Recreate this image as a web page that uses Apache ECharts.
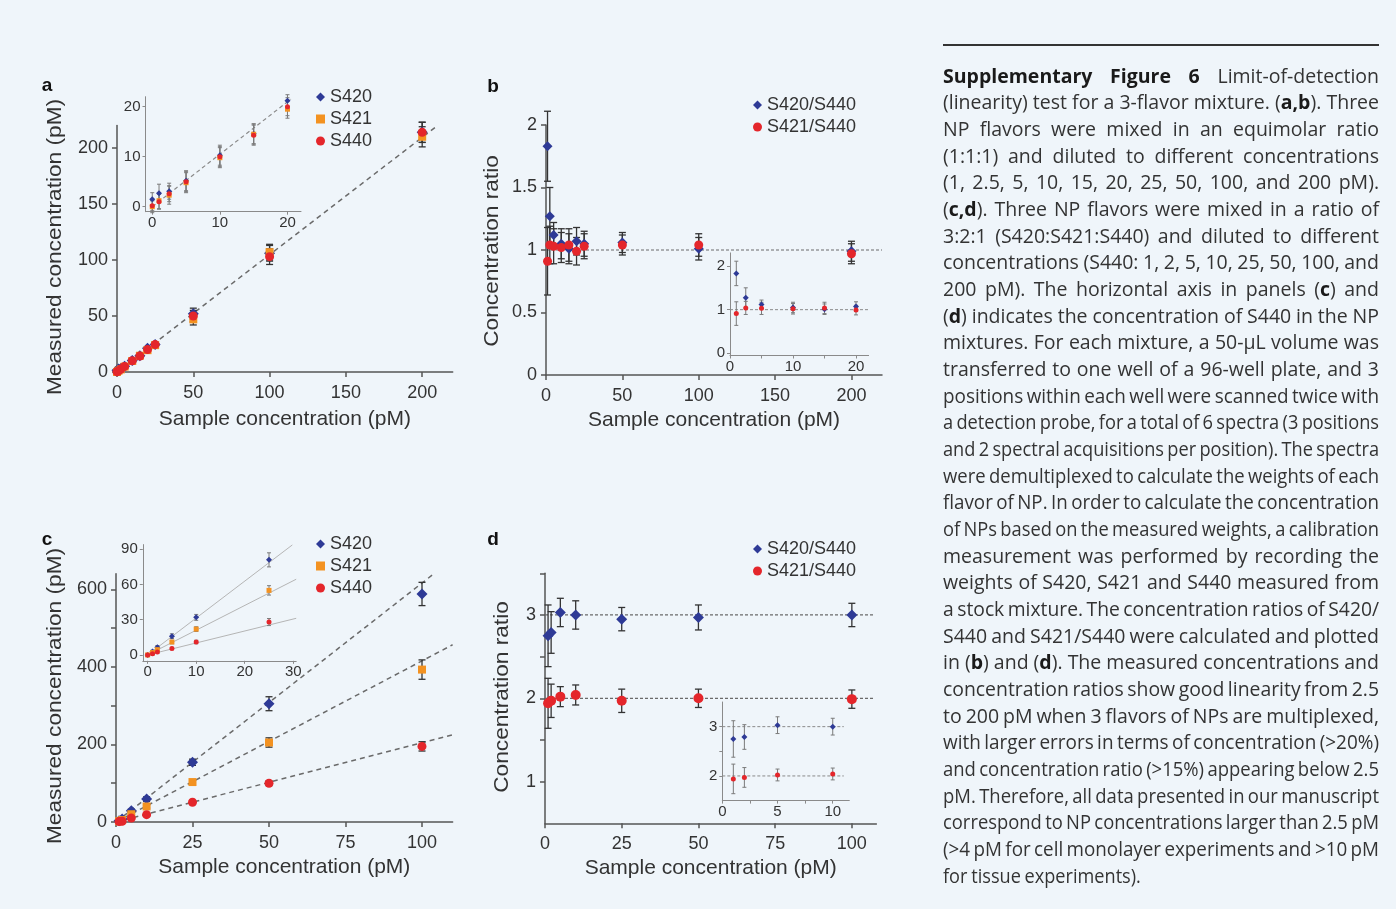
<!DOCTYPE html>
<html><head><meta charset="utf-8">
<script src="https://cdn.jsdelivr.net/npm/echarts@6/dist/echarts.min.js"></script>
<style>html,body{margin:0;padding:0;background:#eff5fa;} #c{width:1396px;height:909px;}</style>
</head><body><div id="c"></div><script>
// ================= DATA =================
// Panel a: equimolar mixture, measured concentration (pM)
const concA    = [0, 1, 2.5, 5, 10, 15, 20, 25, 50, 100, 200];
const measA420 = [1.5, 2.7, 3.1, 5.2, 10.3, 14.6, 21.2, 24.5, 52, 106, 214];
const errA420  = [1.3, 1.8, 1.6, 2.0, 2.0, 2.0, 1.2, 2.0, 5, 7, 9];
const measA421 = [0.0, 1.2, 2.3, 4.8, 9.8, 14.5, 19.5, 24.0, 47, 107, 210];
const errA421  = [1.2, 1.6, 1.8, 2.0, 2.0, 2.0, 1.8, 2.0, 5, 7, 9];
const measA440 = [0.2, 1.0, 2.6, 5.0, 10.0, 14.3, 20.0, 24.5, 50, 103, 214];
const errA440  = [1.0, 1.5, 1.6, 2.0, 2.0, 2.0, 1.8, 2.0, 5, 7, 9];
const fitA      = [[0, 0], [210, 220]];
const fitAInset = [[0, 0], [20.5, 21.5]];

// Panel b: concentration ratios, equimolar
const concB  = [1, 2.5, 5, 10, 15, 20, 25, 50, 100, 200];
const rB420  = [1.83, 1.27, 1.12, 1.05, 1.01, 1.07, 1.05, 1.06, 1.01, 0.99];
const eB420  = [0.28, 0.23, 0.10, 0.12, 0.12, 0.11, 0.10, 0.08, 0.09, 0.08];
const rB421  = [0.91, 1.04, 1.03, 1.02, 1.04, 0.99, 1.03, 1.04, 1.04, 0.97];
const eB421  = [0.27, 0.15, 0.14, 0.12, 0.13, 0.11, 0.10, 0.08, 0.09, 0.08];
const refB      = [[0, 1], [220, 1]];
const refBInset = [[0, 1], [22, 1]];

// Panel c: 3:2:1 mixture, measured concentration (pM)
const concC    = [1, 2, 5, 10, 25, 50, 100];
const measC420 = [3, 8, 29, 59, 154, 305, 588];
const errC420  = [2, 3, 4, 6, 8, 18, 30];
const measC421 = [2, 5, 20, 40, 103, 205, 393];
const errC421  = [1, 2, 3, 4, 6, 12, 25];
const measC440 = [1, 2, 10, 19, 51, 100, 195];
const errC440  = [1, 1, 2, 3, 4, 6, 12];
const fitC420 = [[0, 0], [104.2, 642]];
const fitC421 = [[0, 0], [110, 457]];
const fitC440 = [[0, 0], [110, 225]];
// Panel c inset
const concCi    = [0, 1, 2, 5, 10, 25];
const measCi420 = [0, 3, 6.5, 16, 32, 81];
const errCi420  = [1, 1, 1.5, 2, 2.5, 6];
const measCi421 = [0, 2, 4.5, 11, 22, 55];
const errCi421  = [1, 1, 1, 1.5, 2, 4];
const measCi440 = [0, 1, 2.5, 5.5, 11, 28];
const errCi440  = [1, 1, 1, 1, 1.5, 3];
const fitCi420 = [[0, 0], [29.8, 93.7]];
const fitCi421 = [[0, 0], [30.6, 64.5]];
const fitCi440 = [[0, 0], [30.6, 31.2]];

// Panel d: concentration ratios, 3:2:1
const concD = [1, 2, 5, 10, 25, 50, 100];
const rD420 = [2.75, 2.79, 3.03, 3.00, 2.95, 2.97, 3.00];
const eD420 = [0.37, 0.25, 0.17, 0.17, 0.14, 0.15, 0.14];
const rD421 = [1.94, 1.97, 2.02, 2.04, 1.97, 2.00, 1.99];
const eD421 = [0.30, 0.20, 0.12, 0.12, 0.14, 0.11, 0.11];
const refD3 = [[0, 3], [107, 3]];
const refD2 = [[0, 2], [107, 2]];
const refDi3 = [[0, 3], [11, 3]];
const refDi2 = [[0, 2], [11, 2]];

// Tick / label values
const ticksA   = [0, 50, 100, 150, 200];
const ticksAi  = [0, 10, 20];
const ticksBx  = [0, 50, 100, 150, 200];
const ticksBy  = [0, 0.5, 1, 1.5, 2];
const ticksBix = [0, 10, 20];
const ticksBixMinor = [0, 5, 10, 15, 20];
const ticksBiy = [0, 1, 2];
const ticksCx  = [0, 25, 50, 75, 100];
const labelsCy = [0, 200, 400, 600];
const ticksCy  = [0, 100, 200, 300, 400, 500, 600];
const ticksCix = [0, 10, 20, 30];
const ticksCiy = [0, 30, 60, 90];
const ticksDx  = [0, 25, 50, 75, 100];
const labelsDy = [1, 2, 3];
const ticksDy  = [1, 1.5, 2, 2.5, 3, 3.5];
const labelsDix = [0, 5, 10];
const ticksDix  = [0, 2.5, 5, 7.5, 10];
const labelsDiy = [2, 3];
const ticksDiy  = [2, 2.5, 3];

const xTitle = 'Sample concentration (pM)';
const yTitleMeasured = 'Measured concentration (pM)';
const yTitleRatio = 'Concentration ratio';

const captionLines = [
 "**Supplementary Figure 6** Limit-of-detection",
 "(linearity) test for a 3-flavor mixture. (**a,b**). Three",
 "NP flavors were mixed in an equimolar ratio",
 "(1:1:1) and diluted to different concentrations",
 "(1, 2.5, 5, 10, 15, 20, 25, 50, 100, and 200 pM).",
 "(**c,d**). Three NP flavors were mixed in a ratio of",
 "3:2:1 (S420:S421:S440) and diluted to different",
 "concentrations (S440: 1, 2, 5, 10, 25, 50, 100, and",
 "200 pM). The horizontal axis in panels (**c**) and",
 "(**d**) indicates the concentration of S440 in the NP",
 "mixtures. For each mixture, a 50-\u03bcL volume was",
 "transferred to one well of a 96-well plate, and 3",
 "positions within each well were scanned twice with",
 "a detection probe, for a total of 6 spectra (3 positions",
 "and 2 spectral acquisitions per position). The spectra",
 "were demultiplexed to calculate the weights of each",
 "flavor of NP. In order to calculate the concentration",
 "of NPs based on the measured weights, a calibration",
 "measurement was performed by recording the",
 "weights of S420, S421 and S440 measured from",
 "a stock mixture. The concentration ratios of S420/",
 "S440 and S421/S440 were calculated and plotted",
 "in (**b**) and (**d**). The measured concentrations and",
 "concentration ratios show good linearity from 2.5",
 "to 200 pM when 3 flavors of NPs are multiplexed,",
 "with larger errors in terms of concentration (>20%)",
 "and concentration ratio (>15%) appearing below 2.5",
 "pM. Therefore, all data presented in our manuscript",
 "correspond to NP concentrations larger than 2.5 pM",
 "(>4 pM for cell monolayer experiments and >10 pM",
 "for tissue experiments)."
];

// ================= STYLE / BUILD =================
const FONT = 'Liberation Sans';
const BLUE = '#2e3a96', ORANGE = '#f39221', RED = '#e4262b';
const BG = '#eff5fa';

const grids = [
  {left: 117,   top: 125.6, width: 335.7, height: 246.4}, // 0 a
  {left: 145.5, top: 96.7,  width: 155.5, height: 115},   // 1 a inset
  {left: 546,   top: 125,   width: 336,   height: 250},   // 2 b
  {left: 730,   top: 252.9, width: 138.6, height: 102.6}, // 3 b inset
  {left: 116,   top: 573.8, width: 336.6, height: 248.2}, // 4 c
  {left: 142.8, top: 544.6, width: 153.4, height: 116.2}, // 5 c inset
  {left: 545,   top: 573.3, width: 331.4, height: 250},   // 6 d
  {left: 722.3, top: 702,   width: 127,   height: 98.6}   // 7 d inset
];

function axis(gi, min, max, labelVals, tickVals, main, isY, name, nameGap) {
  const col = main ? '#555' : '#8a8a8a';
  const o = {
    type: 'value', gridIndex: gi, min: min, max: max,
    axisLine: {show: true, onZero: false, lineStyle: {color: col, width: main ? 1.5 : 1}},
    axisTick: {show: true, customValues: tickVals, length: main ? 5 : 3, lineStyle: {color: col, width: main ? 1.5 : 1}},
    axisLabel: {customValues: labelVals, fontSize: main ? 18 : 15, color: '#333', fontFamily: FONT,
                margin: main ? (isY ? 9 : 12) : (isY ? 5 : 4)},
    splitLine: {show: false}
  };
  if (name) {
    o.name = name; o.nameLocation = 'middle'; o.nameGap = nameGap;
    o.nameTextStyle = {fontSize: 21, color: '#333', fontFamily: FONT};
  }
  return o;
}

const xAxes = [
  axis(0, 0, 220, ticksA, ticksA, true, false, xTitle, 37),
  axis(1, -1, 22, ticksAi, ticksAi, false, false),
  axis(2, 0, 220, ticksBx, ticksBx, true, false, xTitle, 35),
  axis(3, 0, 22, ticksBix, ticksBixMinor, false, false),
  axis(4, 0, 110, ticksCx, ticksCx, true, false, xTitle, 35),
  axis(5, -1, 30.6, ticksCix, ticksCix, false, false),
  axis(6, 0, 108, ticksDx, ticksDx, true, false, xTitle, 34),
  axis(7, 0, 11.5, labelsDix, ticksDix, false, false)
];
const yAxes = [
  axis(0, 0, 220, ticksA, ticksA, true, true),
  axis(1, -1, 22, ticksAi, ticksAi, false, true),
  axis(2, 0, 2, ticksBy, ticksBy, true, true),
  axis(3, -0.05, 2.3, ticksBiy, ticksBiy, false, true),
  axis(4, 0, 640, labelsCy, ticksCy, true, true),
  axis(5, -5, 94, ticksCiy, ticksCiy, false, true),
  axis(6, 0.5, 3.5, labelsDy, ticksDy, true, true),
  axis(7, 1.5, 3.5, labelsDiy, ticksDiy, false, true)
];

const series = [];
function zip(xs, ys, maxX) {
  const out = [];
  xs.forEach((x, i) => { if (maxX === undefined || x <= maxX) out.push([x, ys[i]]); });
  return out;
}
function zipErr(xs, ys, es, maxX) {
  const out = [];
  xs.forEach((x, i) => { if (maxX === undefined || x <= maxX) out.push([x, ys[i] - es[i], ys[i] + es[i]]); });
  return out;
}
function addLine(gi, data, opts) {
  series.push({type: 'line', xAxisIndex: gi, yAxisIndex: gi, data: data, showSymbol: false, symbol: 'none',
    silent: true, animation: false, z: opts.z || 1,
    lineStyle: {color: opts.color || '#666', width: opts.width || 1.5, type: opts.type || [5, 4]}});
}
function addErr(gi, data, main, z) {
  const col = main ? '#333' : '#7a7a7a', lw = main ? 1.3 : 1, cap = main ? 3.5 : 2;
  series.push({type: 'custom', xAxisIndex: gi, yAxisIndex: gi, data: data, silent: true, animation: false,
    clip: false, z: z, encode: {x: 0, y: [1, 2]},
    renderItem: function (params, api) {
      const x = api.value(0), lo = api.value(1), hi = api.value(2);
      const p1 = api.coord([x, lo]), p2 = api.coord([x, hi]);
      const st = {stroke: col, lineWidth: lw};
      return {type: 'group', children: [
        {type: 'line', shape: {x1: p1[0], y1: p1[1], x2: p2[0], y2: p2[1]}, style: st},
        {type: 'line', shape: {x1: p1[0] - cap, y1: p1[1], x2: p1[0] + cap, y2: p1[1]}, style: st},
        {type: 'line', shape: {x1: p2[0] - cap, y1: p2[1], x2: p2[0] + cap, y2: p2[1]}, style: st}
      ]};
    }});
}
function addPts(gi, name, data, color, symbol, size, z) {
  series.push({type: 'scatter', name: name, xAxisIndex: gi, yAxisIndex: gi, data: data, symbol: symbol,
    symbolSize: size, itemStyle: {color: color, opacity: 1}, silent: true, animation: false, z: z});
}

// ---- panel a ----
addLine(0, fitA, {color: '#6a6a6a', type: [5, 4]});
addErr(0, zipErr(concA, measA420, errA420), true, 2);
addErr(0, zipErr(concA, measA421, errA421), true, 2);
addErr(0, zipErr(concA, measA440, errA440), true, 2);
addPts(0, 'S420', zip(concA, measA420), BLUE, 'diamond', 11, 3);
addPts(0, 'S421', zip(concA, measA421), ORANGE, 'rect', 8, 3);
addPts(0, 'S440', zip(concA, measA440), RED, 'circle', 9, 3);
addLine(1, fitAInset, {color: '#8a8a8a', width: 1.2, type: [4, 3], z: 4});
addErr(1, zipErr(concA, measA420, errA420, 20), false, 5);
addErr(1, zipErr(concA, measA421, errA421, 20), false, 5);
addErr(1, zipErr(concA, measA440, errA440, 20), false, 5);
addPts(1, 'S420', zip(concA, measA420, 20), BLUE, 'diamond', 6, 6);
addPts(1, 'S421', zip(concA, measA421, 20), ORANGE, 'rect', 5, 6);
addPts(1, 'S440', zip(concA, measA440, 20), RED, 'circle', 5, 6);

// ---- panel b ----
addLine(2, refB, {color: '#6a6a6a', width: 1.2, type: [3, 2]});
addErr(2, zipErr(concB, rB420, eB420), true, 2);
addErr(2, zipErr(concB, rB421, eB421), true, 2);
addPts(2, 'S420/S440', zip(concB, rB420), BLUE, 'diamond', 10, 3);
addPts(2, 'S421/S440', zip(concB, rB421), RED, 'circle', 9, 3);
addLine(3, refBInset, {color: '#8a8a8a', width: 1, type: [3, 2], z: 4});
addErr(3, zipErr(concB, rB420, eB420, 20), false, 5);
addErr(3, zipErr(concB, rB421, eB421, 20), false, 5);
addPts(3, 'S420/S440', zip(concB, rB420, 20), BLUE, 'diamond', 6, 6);
addPts(3, 'S421/S440', zip(concB, rB421, 20), RED, 'circle', 5, 6);

// ---- panel c ----
addLine(4, fitC420, {color: '#6a6a6a', type: [5, 4]});
addLine(4, fitC421, {color: '#6a6a6a', type: [5, 4]});
addLine(4, fitC440, {color: '#6a6a6a', type: [5, 4]});
addErr(4, zipErr(concC, measC420, errC420), true, 2);
addErr(4, zipErr(concC, measC421, errC421), true, 2);
addErr(4, zipErr(concC, measC440, errC440), true, 2);
addPts(4, 'S420', zip(concC, measC420), BLUE, 'diamond', 11, 3);
addPts(4, 'S421', zip(concC, measC421), ORANGE, 'rect', 8, 3);
addPts(4, 'S440', zip(concC, measC440), RED, 'circle', 9, 3);
addLine(5, fitCi420, {color: '#b5b5b5', width: 1, type: 'solid', z: 4});
addLine(5, fitCi421, {color: '#b5b5b5', width: 1, type: 'solid', z: 4});
addLine(5, fitCi440, {color: '#b5b5b5', width: 1, type: 'solid', z: 4});
addErr(5, zipErr(concCi, measCi420, errCi420), false, 5);
addErr(5, zipErr(concCi, measCi421, errCi421), false, 5);
addErr(5, zipErr(concCi, measCi440, errCi440), false, 5);
addPts(5, 'S420', zip(concCi, measCi420), BLUE, 'diamond', 6, 6);
addPts(5, 'S421', zip(concCi, measCi421), ORANGE, 'rect', 5, 6);
addPts(5, 'S440', zip(concCi, measCi440), RED, 'circle', 5, 6);

// ---- panel d ----
addLine(6, refD3, {color: '#6a6a6a', width: 1.2, type: [3, 2]});
addLine(6, refD2, {color: '#6a6a6a', width: 1.2, type: [3, 2]});
addErr(6, zipErr(concD, rD420, eD420), true, 2);
addErr(6, zipErr(concD, rD421, eD421), true, 2);
addPts(6, 'S420/S440', zip(concD, rD420), BLUE, 'diamond', 11, 3);
addPts(6, 'S421/S440', zip(concD, rD421), RED, 'circle', 10, 3);
addLine(7, refDi3, {color: '#8a8a8a', width: 1, type: [3, 2], z: 4});
addLine(7, refDi2, {color: '#8a8a8a', width: 1, type: [3, 2], z: 4});
addErr(7, zipErr(concD, rD420, eD420, 10), false, 5);
addErr(7, zipErr(concD, rD421, eD421, 10), false, 5);
addPts(7, 'S420/S440', zip(concD, rD420, 10), BLUE, 'diamond', 6, 6);
addPts(7, 'S421/S440', zip(concD, rD421, 10), RED, 'circle', 5, 6);

function legend(left, top, items) {
  return {left: left, top: top, orient: 'vertical', itemGap: 4, itemWidth: 9, itemHeight: 9,
    selectedMode: false, textStyle: {fontSize: 18, color: '#333', fontFamily: FONT, lineHeight: 18},
    data: items};
}
const legends = [
  legend(311, 83, [{name: 'S420', icon: 'diamond'}, {name: 'S421', icon: 'rect'}, {name: 'S440', icon: 'circle'}]),
  legend(748, 91, [{name: 'S420/S440', icon: 'diamond'}, {name: 'S421/S440', icon: 'circle'}]),
  legend(311, 530, [{name: 'S420', icon: 'diamond'}, {name: 'S421', icon: 'rect'}, {name: 'S440', icon: 'circle'}]),
  legend(748, 535, [{name: 'S420/S440', icon: 'diamond'}, {name: 'S421/S440', icon: 'circle'}])
];

// ---- caption (justified text) ----
const CAP_X = 943, CAP_W = 436, CAP_Y0 = 77, CAP_DY = 26.67, CAP_FS = 19.5;
const mctx = document.createElement('canvas').getContext('2d');
function fontStr(b) { return (b ? 'bold ' : '') + CAP_FS + 'px "Open Sans"'; }
function mw(t, b) { mctx.font = fontStr(b); return mctx.measureText(t).width; }
function parseLine(s) {
  const segs = s.split('**').map((t, i) => ({t: t, bold: i % 2 === 1}));
  const words = []; let cur = [];
  segs.forEach(sg => {
    sg.t.split(' ').forEach((p, k) => {
      if (k > 0) { if (cur.length) words.push(cur); cur = []; }
      if (p) cur.push({t: p, bold: sg.bold});
    });
  });
  if (cur.length) words.push(cur);
  return words;
}
const graphics = [];
captionLines.forEach((line, li) => {
  const words = parseLine(line);
  const ww = words.map(w => w.reduce((s, p) => s + mw(p.t, p.bold), 0));
  const sum = ww.reduce((a, b) => a + b, 0);
  const n = words.length;
  const last = li === captionLines.length - 1;
  const sp = mw(' ', false);
  let gap = sp, scale = 1;
  if (!last && n > 1) {
    gap = (CAP_W - sum) / (n - 1);
    const g0 = sp * 0.7;
    if (gap < g0) { scale = CAP_W / (sum + g0 * (n - 1)); gap = g0 * scale; }
  } else if (last) {
    scale = 0.93; gap = sp * 0.8 * scale;
  }
  let x = CAP_X; const y = CAP_Y0 + li * CAP_DY;
  words.forEach((w, wi) => {
    let px = x;
    w.forEach(p => {
      graphics.push({type: 'text', x: px, y: y, scaleX: scale, silent: true,
        style: {text: p.t, font: fontStr(p.bold), fill: p.bold ? '#1a1a1a' : '#333',
                textAlign: 'left', textVerticalAlign: 'middle', verticalAlign: 'middle'}});
      px += mw(p.t, p.bold) * scale;
    });
    x += ww[wi] * scale + gap;
  });
});
graphics.push({type: 'line', silent: true, shape: {x1: 943, y1: 45, x2: 1379, y2: 45}, style: {stroke: '#333', lineWidth: 2}});
[['a', 47, 86], ['b', 493, 87], ['c', 47, 540], ['d', 493, 540]].forEach(l => {
  graphics.push({type: 'text', x: l[1], y: l[2], silent: true,
    style: {text: l[0], font: 'bold 19px "Liberation Sans"', fill: '#111', textAlign: 'center',
            textVerticalAlign: 'middle', verticalAlign: 'middle'}});
});
// y-axis titles (rotated, slightly stretched along their length as in the figure)
[[yTitleMeasured, 55, 247], [yTitleRatio, 492, 251], [yTitleMeasured, 55, 696], [yTitleRatio, 502, 697]].forEach(t => {
  graphics.push({type: 'text', x: t[1], y: t[2], rotation: Math.PI / 2, scaleX: 1.08, silent: true,
    style: {text: t[0], font: '21px "Liberation Sans"', fill: '#333', textAlign: 'center',
            textVerticalAlign: 'middle', verticalAlign: 'middle'}});
});

const chart = echarts.init(document.getElementById('c'), null, {renderer: 'canvas'});
chart.setOption({
  backgroundColor: BG,
  animation: false,
  grid: grids,
  xAxis: xAxes,
  yAxis: yAxes,
  legend: legends,
  series: series,
  graphic: {elements: graphics}
});
</script></body></html>
